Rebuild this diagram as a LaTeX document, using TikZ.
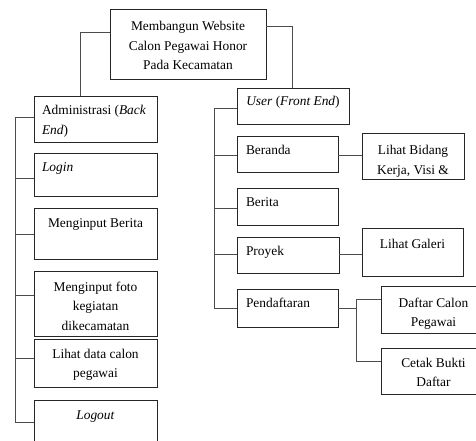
\documentclass[tikz,border=0pt]{standalone}
\usepackage{fontspec}
\setmainfont{Liberation Serif}
\begin{document}
\begin{tikzpicture}[x=1pt,y=-1pt,
  box/.style={draw=black!85, line width=0.9pt, fill=white, inner sep=0pt, outer sep=0pt},
  conn/.style={draw=black!70, line width=0.9pt},
  txt/.style={inner sep=0pt, outer sep=0pt, font=\fontsize{13.4}{19.7}\selectfont, execute at begin node=\strut},
]
\fill[white] (0,0) rectangle (476,440);
\clip (0,0) rectangle (476,440);
% boxes
\node[box, minimum width=156pt, minimum height=70pt] (top) at (188,44) {};
\node[box, minimum width=123pt, minimum height=46pt] (admin) at (95.5,119) {};
\node[box, minimum width=123pt, minimum height=43pt] (login) at (95.5,174.5) {};
\node[box, minimum width=123pt, minimum height=51pt] (bin) at (95.5,233.5) {};
\node[box, minimum width=123pt, minimum height=65pt] (foto) at (95.5,303.5) {};
\node[box, minimum width=123pt, minimum height=48pt] (lihat) at (95.5,363) {};
\node[box, minimum width=123pt, minimum height=50pt] (logout) at (95.5,425) {};
\node[box, minimum width=112pt, minimum height=36pt] (user) at (293,106) {};
\node[box, minimum width=101pt, minimum height=36pt] (beranda) at (287.5,154) {};
\node[box, minimum width=102pt, minimum height=46pt] (lbidang) at (413,156) {};
\node[box, minimum width=101pt, minimum height=37pt] (berita) at (287.5,206.5) {};
\node[box, minimum width=102pt, minimum height=36pt] (proyek) at (288,255) {};
\node[box, minimum width=101pt, minimum height=48pt] (galeri) at (412.5,252) {};
\node[box, minimum width=101pt, minimum height=38pt] (pend) at (287.5,308) {};
\node[box, minimum width=105pt, minimum height=47pt] (daftar) at (433.5,309.5) {};
\node[box, minimum width=105pt, minimum height=46pt] (cetak) at (433.5,371) {};
% texts
\node[txt, align=center, anchor=north] (ttop) at (188,21.2) {Membangun Website\\Calon Pegawai Honor\\Pada Kecamatan};
\node[txt, align=left, anchor=north west] (tadmin) at (42,105.2) {Administrasi (\textit{Back}\\\textit{End})};
\node[txt, align=left, anchor=north west] (tlogin) at (42,157.7) {\textit{Login}};
\node[txt, align=center, anchor=north] (tbin) at (95.5,214.2) {Menginput Berita};
\node[txt, align=center, anchor=north] (tfoto) at (95.5,281.7) {Menginput foto\\kegiatan\\dikecamatan};
\node[txt, align=center, anchor=north] (tlihat) at (95.5,348.7) {Lihat data calon\\pegawai};
\node[txt, align=center, anchor=north] (tlogout) at (95.5,405.2) {\textit{Logout}};
\node[txt, align=center, anchor=north] (tuser) at (293,92.2) {\textit{User} (\textit{Front End})};
\node[txt, align=left, anchor=north west] (tberanda) at (246,141.2) {Beranda};
\node[txt, align=center, anchor=north] (tlbidang) at (413,145.2) {Lihat Bidang\\Kerja, Visi \&};
\node[txt, align=left, anchor=north west] (tberita) at (246,193.2) {Berita};
\node[txt, align=left, anchor=north west] (tproyek) at (246,242.2) {Proyek};
\node[txt, align=center, anchor=north] (tgaleri) at (412.5,235.2) {Lihat Galeri};
\node[txt, align=left, anchor=north west] (tpend) at (246,294.2) {Pendaftaran};
\node[txt, align=center, anchor=north] (tdaftar) at (433.5,297.7) {Daftar Calon\\Pegawai};
\node[txt, align=center, anchor=north] (tcetak) at (433.5,357.7) {Cetak Bukti\\Daftar};
% connector coordinates
\coordinate (tl) at (80,32);
\coordinate (tr) at (292,26);
\coordinate (la) at (15,117);
\coordinate (l1) at (15,178);
\coordinate (l2) at (15,234);
\coordinate (l3) at (15,295);
\coordinate (l4) at (15,358);
\coordinate (l5) at (15,422);
\coordinate (ra) at (214,108);
\coordinate (r1) at (214,155);
\coordinate (r2) at (214,208);
\coordinate (r3) at (214,254);
\coordinate (r4) at (214,308);
\coordinate (pa) at (356,299);
\coordinate (pb) at (356,361);
% connectors
\draw[conn] (top.west |- tl) -| (admin.north -| tl);
\draw[conn] (top.east |- tr) -| (user.north -| tr);
\draw[conn] (admin.west |- la) -- (la) -- (l5) -- (logout.west |- l5);
\draw[conn] (l1) -- (login.west |- l1);
\draw[conn] (l2) -- (bin.west |- l2);
\draw[conn] (l3) -- (foto.west |- l3);
\draw[conn] (l4) -- (lihat.west |- l4);
\draw[conn] (user.west |- ra) -- (ra) -- (r4) -- (pend.west |- r4);
\draw[conn] (r1) -- (beranda.west |- r1);
\draw[conn] (r2) -- (berita.west |- r2);
\draw[conn] (r3) -- (proyek.west |- r3);
\draw[conn] (beranda.east |- r1) -- (lbidang.west |- r1);
\draw[conn] (proyek.east |- r3) -- (galeri.west |- r3);
\draw[conn] (pend.east |- r4) -- (pa |- r4) -- (pa) -- (daftar.west |- pa);
\draw[conn] (pa |- r4) -- (pb) -- (cetak.west |- pb);
\end{tikzpicture}
\end{document}
